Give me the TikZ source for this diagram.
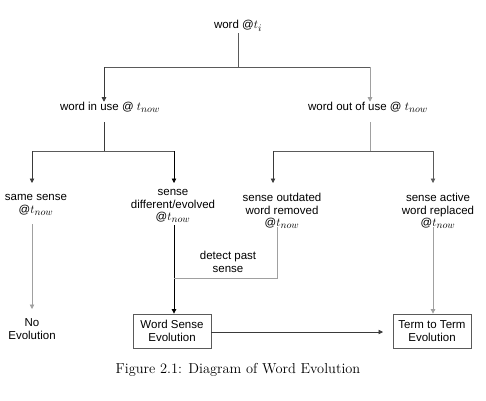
\documentclass[tikz,border=0pt]{standalone}
\usepackage{fontspec}
\setsansfont{Liberation Sans}
\DeclareMathSizes{11.5}{11.5}{9.8}{8}
\usetikzlibrary{arrows.meta}
\definecolor{dk}{HTML}{3A3A3A}
\definecolor{md}{HTML}{5A5A5A}
\definecolor{lt}{HTML}{A0A0A0}
\begin{document}
\begin{tikzpicture}[x=1pt,y=-1pt,
  lbl/.style={font=\sffamily\fontsize{11.5}{12.5}\selectfont, align=center, inner sep=0pt},
  ebox/.style={lbl, draw=md, line width=0.8pt, minimum width=78pt, minimum height=34pt},
  conn/.style={line width=0.8pt},
  arr/.style={conn, -{Triangle[width=4.5pt,length=4.5pt]}},
  captext/.style={font=\fontsize{14.4}{16}\selectfont, inner sep=0pt}]
\useasboundingbox (0,0) rectangle (486,400);
\node[lbl] (root) at (238,26) {word @$t_i$};
\node[lbl] (inuse) at (110,107) {word in use @ $t_{now}$};
\node[lbl] (outuse) at (368,107) {word out of use @ $t_{now}$};
\node[lbl] (same) at (36,205) {same sense\\@$t_{now}$};
\node[lbl] (diff) at (173,206) {sense\\different/evolved\\@$t_{now}$};
\node[lbl] (outd) at (282,211) {sense outdated\\word removed\\@$t_{now}$};
\node[lbl] (act) at (438,211) {sense active\\word replaced\\@$t_{now}$};
\node[lbl] (detect) at (228,262) {detect past\\sense};
\node[lbl] (noev) at (32,329) {No\\Evolution};
\node[ebox] (wse) at (172,331) {Word Sense\\Evolution};
\node[ebox] (tte) at (432,331) {Term to Term\\Evolution};
\node[captext] (caption) at (238,370) {Figure 2.1: Diagram of Word Evolution};
% coordinates
\coordinate (r0) at (238,33);
\coordinate (r1) at (238,67);
\coordinate (hl) at (104,67);
\coordinate (hr) at (370,67);
\coordinate (a0) at (104,122);
\coordinate (a1) at (104,151);
\coordinate (al) at (32,151);
\coordinate (ar) at (174,151);
\coordinate (alt) at (32,183);
\coordinate (art) at (174,183);
\coordinate (b0) at (370,122);
\coordinate (b1) at (370,151);
\coordinate (bl) at (273,151);
\coordinate (br) at (433,151);
\coordinate (blt) at (273,183);
\coordinate (brt) at (433,183);
\coordinate (s0) at (32,224);
\coordinate (s1) at (32,309);
\coordinate (d0) at (174,225);
\coordinate (o0) at (277,227);
\coordinate (o1) at (277,278);
\coordinate (o2) at (174,278);
\coordinate (t0) at (433,227);
\coordinate (e1) at (383,332);
% connectors
\draw[conn, md] (r0) -- (r1);
\draw[conn, md] (hl) -- (hr);
\draw[arr, dk] (hl) -- (inuse.north -| hl);
\draw[arr, lt] (hr) -- (outuse.north -| hr);
\draw[conn, dk] (a0) -- (a1);
\draw[conn, md] (al) -- (ar);
\draw[arr, dk] (al) -- (alt);
\draw[arr, black] (ar) -- (art);
\draw[conn, lt] (b0) -- (b1);
\draw[conn, md] (bl) -- (br);
\draw[arr, dk] (bl) -- (blt);
\draw[arr, md] (br) -- (brt);
\draw[arr, lt] (s0) -- (s1);
\draw[arr, black] (d0) -- (wse.north -| d0);
\draw[conn, lt] (o0) -- (o1) -- (o2);
\draw[arr, lt] (t0) -- (tte.north -| t0);
\draw[arr, dk] (wse.east |- e1) -- (e1);
\end{tikzpicture}
\end{document}
